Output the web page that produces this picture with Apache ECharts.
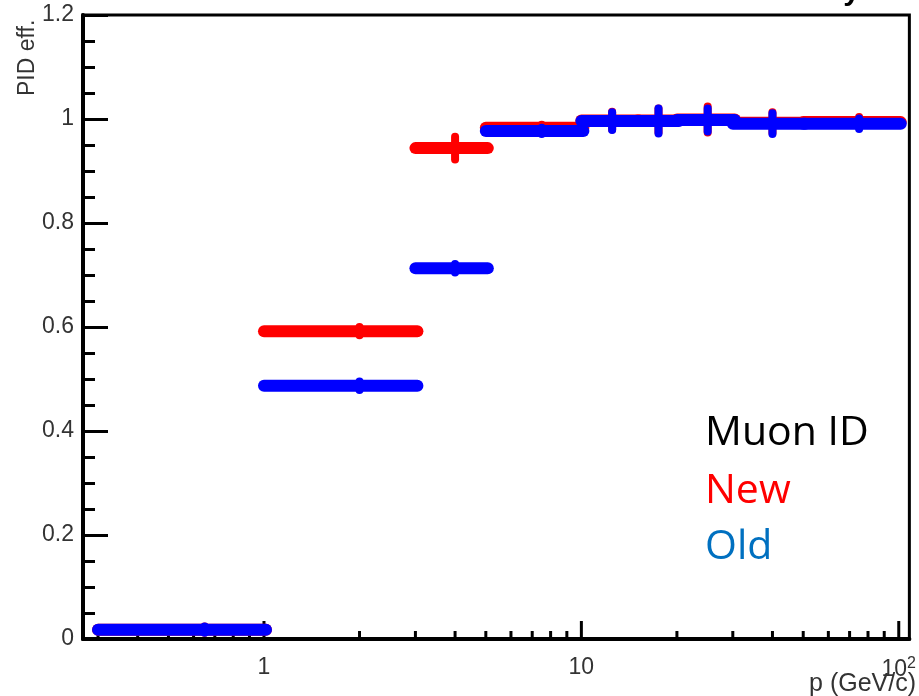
<!DOCTYPE html>
<html>
<head>
<meta charset="utf-8">
<script src="https://cdn.jsdelivr.net/npm/echarts@6/dist/echarts.min.js"></script>
<style>html,body{margin:0;padding:0;background:#fff;}#chart{width:919px;height:696px;}</style>
</head>
<body>
<div id="chart"></div>
<script>
// ---- data ----
const binLow  = [0.3, 1, 3, 5, 10, 15, 20, 30, 50];
const binHigh = [1, 3, 5, 10, 15, 20, 30, 50, 100];
const newEff  = [0.018, 0.592, 0.944, 0.983, 0.997, 0.997, 0.999, 0.993, 0.994];
const newErr  = [0.006, 0.008, 0.022, 0.006, 0.017, 0.023, 0.025, 0.020, 0.010];
const oldEff  = [0.018, 0.487, 0.713, 0.977, 0.996, 0.996, 0.998, 0.991, 0.991];
const oldErr  = [0.006, 0.008, 0.008, 0.006, 0.017, 0.024, 0.022, 0.020, 0.010];
const xMajorTicks = [1, 10, 100];
const xMinorTicks = [0.3,0.4,0.5,0.6,0.7,0.8,0.9,2,3,4,5,6,7,8,9,20,30,40,50,60,70,80,90];
const legendLines = ['Muon ID', 'New', 'Old'];

function binData(eff, err){
  return binLow.map((lo, i) => [lo, binHigh[i], eff[i], err[i], (lo + binHigh[i]) / 2]);
}
function renderBins(color){
  return function(params, api){
    const lo = api.value(0), hi = api.value(1), v = api.value(2), e = api.value(3), c = api.value(4);
    const a = api.coord([lo, v]), b = api.coord([hi, v]);
    const t = api.coord([c, v + e]), u = api.coord([c, v - e]);
    return {type:'group', children:[
      {type:'line', shape:{x1:a[0], y1:a[1], x2:b[0] + 2, y2:b[1]}, style:{stroke:color, lineWidth:12, lineCap:'round'}},
      {type:'line', shape:{x1:t[0], y1:t[1], x2:u[0], y2:u[1]}, style:{stroke:color, lineWidth:8, lineCap:'round'}}
    ]};
  };
}
function renderTicks(len){
  return function(params, api){
    const p = api.coord([api.value(0), 0]);
    return {type:'line', shape:{x1:p[0], y1:p[1], x2:p[0], y2:p[1] - len}, style:{stroke:'#000', lineWidth:3}};
  };
}

const chart = echarts.init(document.getElementById('chart'), null, {renderer:'canvas'});
const labelFont = 'Liberation Sans';
chart.setOption({
  animation:false,
  backgroundColor:'#fff',
  grid:{left:83, right:5, top:15, bottom:57, show:true, borderColor:'#000', borderWidth:3, backgroundColor:'transparent'},
  xAxis:{
    type:'log', min:0.269, max:108,
    axisLine:{show:true, lineStyle:{color:'#000', width:4}},
    axisTick:{show:false},
    splitLine:{show:false},
    axisLabel:{
      margin:17, color:'#333', fontFamily:labelFont, fontSize:23,
      formatter:function(v){
        const l = Math.log10(v);
        if (Math.abs(l - Math.round(l)) > 1e-6) return '';
        if (Math.round(l) === 2) return '{b|10}{s|2}';
        return String(Math.round(v));
      },
      rich:{b:{fontSize:23, color:'#333', fontFamily:labelFont}, s:{fontSize:16, color:'#333', fontFamily:labelFont, padding:[0,0,12,0]}}
    }
  },
  yAxis:{
    type:'value', min:0, max:1.2, interval:0.2,
    axisLine:{show:true, lineStyle:{color:'#000', width:4}},
    axisTick:{show:true, inside:true, length:25, lineStyle:{color:'#000', width:3}},
    minorTick:{show:true, splitNumber:4, length:12, lineStyle:{color:'#000', width:3}},
    splitLine:{show:false},
    axisLabel:{margin:9, color:'#333', fontFamily:labelFont, fontSize:23}
  },
  series:[
    {type:'custom', renderItem:renderTicks(8), data:xMinorTicks.map(v=>[v,0]), encode:{x:0,y:1}, z:1, silent:true},
    {type:'custom', renderItem:renderTicks(18), data:xMajorTicks.map(v=>[v,0]), encode:{x:0,y:1}, z:1, silent:true},
    {type:'custom', name:'New', renderItem:renderBins('#ff0000'), data:binData(newEff,newErr), encode:{x:[0,1],y:2}, z:3},
    {type:'custom', name:'Old', renderItem:renderBins('#0000ff'), data:binData(oldEff,oldErr), encode:{x:[0,1],y:2}, z:4}
  ],
  graphic:[
    {type:'text', x:28, y:96, rotation:Math.PI/2, style:{text:'PID eff.', font:'23px "Liberation Sans"', fill:'#333', align:'left', verticalAlign:'middle'}},
    {type:'text', x:916, y:684, style:{text:'p (GeV/c)', font:'25px "Liberation Sans"', fill:'#333', align:'right', verticalAlign:'middle'}},
    {type:'text', x:860, y:7, style:{text:'Efficiency', font:'bold 30px "Liberation Sans"', fill:'#000', align:'right', verticalAlign:'bottom'}},
    {type:'text', x:705, y:433, style:{text:legendLines[0], font:'41px "Open Sans"', fill:'#000', align:'left', verticalAlign:'middle'}},
    {type:'text', x:705, y:491, style:{text:legendLines[1], font:'41px "Open Sans"', fill:'#ff0000', align:'left', verticalAlign:'middle'}},
    {type:'text', x:705, y:547, style:{text:legendLines[2], font:'41px "Open Sans"', fill:'#0070c0', align:'left', verticalAlign:'middle'}}
  ]
});
</script>
</body>
</html>
